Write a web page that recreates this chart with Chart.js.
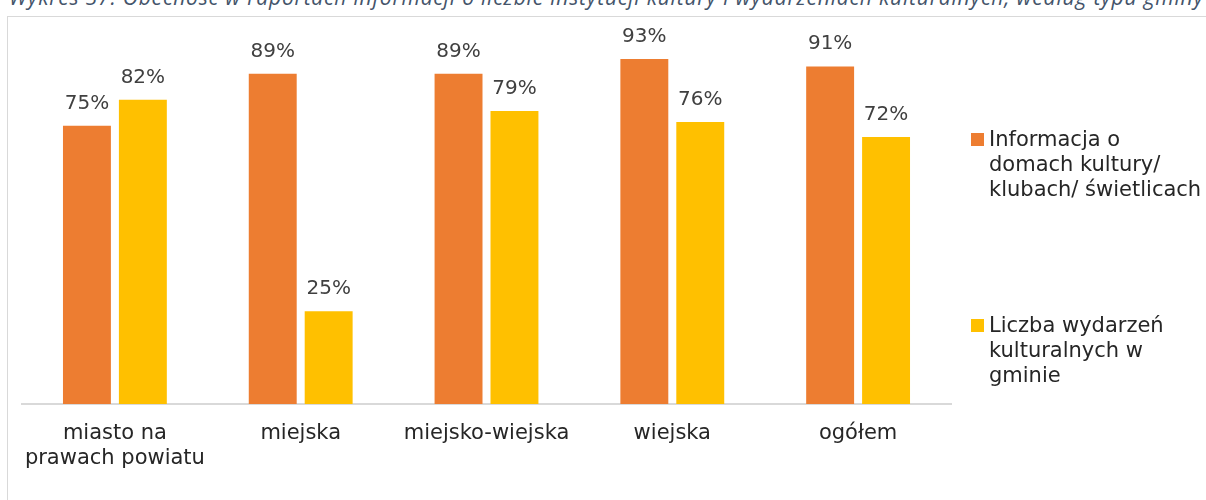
<!DOCTYPE html>
<html lang="pl">
<head>
<meta charset="utf-8">
<script src="https://cdn.jsdelivr.net/npm/chart.js@4.4.1/dist/chart.umd.min.js"></script>
<style>
  html, body { margin: 0; padding: 0; background: #fff; overflow: hidden; }
  body { width: 1206px; height: 500px; position: relative; }
  #title {
    position: absolute; left: 9px; top: -13px; white-space: nowrap;
    font: italic 21px/21px "Open Sans", sans-serif; letter-spacing: 0.8px; color: #44546A;
  }
  #frame {
    position: absolute; left: 7px; top: 16px; width: 1400px; height: 700px;
    border: 1px solid #D9D9D9; box-sizing: border-box;
  }
  #wrap { position: absolute; left: 0; top: 0; width: 1206px; height: 500px; }
</style>
</head>
<body>
<div id="title">Wykres 37. Obecność w raportach informacji o liczbie instytucji kultury i wydarzeniach kulturalnych, według typu gminy</div>
<div id="frame"></div>
<div id="wrap"><canvas id="c" width="1206" height="500"></canvas></div>
<script>
// Gmina types (multi-line labels as arrays)
const categories = [
  ["miasto na", "prawach powiatu"],
  "miejska",
  "miejsko-wiejska",
  "wiejska",
  "ogółem"
];

// Share of reports containing each piece of information (%)
const infoDomyKultury = [75, 89, 89, 93, 91];
const liczbaWydarzen  = [82, 25, 79, 76, 72];

const seriesNames = [
  ["Informacja o", "domach kultury/", "klubach/ świetlicach"],
  ["Liczba wydarzeń", "kulturalnych w", "gminie"]
];
const seriesColors = ["#ED7D31", "#FFC000"];

const FONT = '"DejaVu Sans", sans-serif';

// Percent labels above each bar
const valueLabels = {
  id: "valueLabels",
  afterDatasetsDraw(chart) {
    const ctx = chart.ctx;
    ctx.save();
    ctx.font = "20px " + FONT;
    ctx.fillStyle = "#404040";
    ctx.textAlign = "center";
    ctx.textBaseline = "alphabetic";
    chart.data.datasets.forEach((ds, di) => {
      chart.getDatasetMeta(di).data.forEach((bar, i) => {
        ctx.fillText(ds.data[i] + "%", bar.x, bar.y - 17);
      });
    });
    ctx.restore();
  }
};

// Legend on the right, with wrapped series names
const sideLegend = {
  id: "sideLegend",
  afterDraw(chart) {
    const ctx = chart.ctx;
    const x = chart.chartArea.right + 20;
    const firstBaselines = [146, 332];
    ctx.save();
    ctx.font = "21px " + FONT;
    ctx.textAlign = "left";
    ctx.textBaseline = "alphabetic";
    chart.data.datasets.forEach((ds, di) => {
      const y0 = firstBaselines[di];
      ctx.fillStyle = ds.backgroundColor;
      ctx.fillRect(x, y0 - 13, 13, 13);
      ctx.fillStyle = "#262626";
      seriesNames[di].forEach((line, li) => {
        ctx.fillText(line, x + 18, y0 + li * 25);
      });
    });
    ctx.restore();
  }
};

new Chart(document.getElementById("c"), {
  type: "bar",
  data: {
    labels: categories,
    datasets: [
      { label: seriesNames[0].join(" "), data: infoDomyKultury, backgroundColor: seriesColors[0] },
      { label: seriesNames[1].join(" "), data: liczbaWydarzen, backgroundColor: seriesColors[1] }
    ]
  },
  options: {
    responsive: false,
    animation: false,
    layout: { padding: { left: 22, right: 255, top: 33, bottom: 0 } },
    datasets: { bar: { categoryPercentage: 0.602, barPercentage: 0.857 } },
    plugins: { legend: { display: false }, tooltip: { enabled: false } },
    scales: {
      x: {
        grid: { display: false, drawTicks: false },
        border: { display: true, color: "#D9D9D9", width: 2 },
        ticks: { color: "#262626", font: { family: FONT, size: 21, lineHeight: 1.19 }, padding: 17, maxRotation: 0, autoSkip: false },
        afterFit(scale) { scale.height = 96; }
      },
      y: { display: false, min: 0, max: 100 }
    }
  },
  plugins: [valueLabels, sideLegend]
});
</script>
</body>
</html>
